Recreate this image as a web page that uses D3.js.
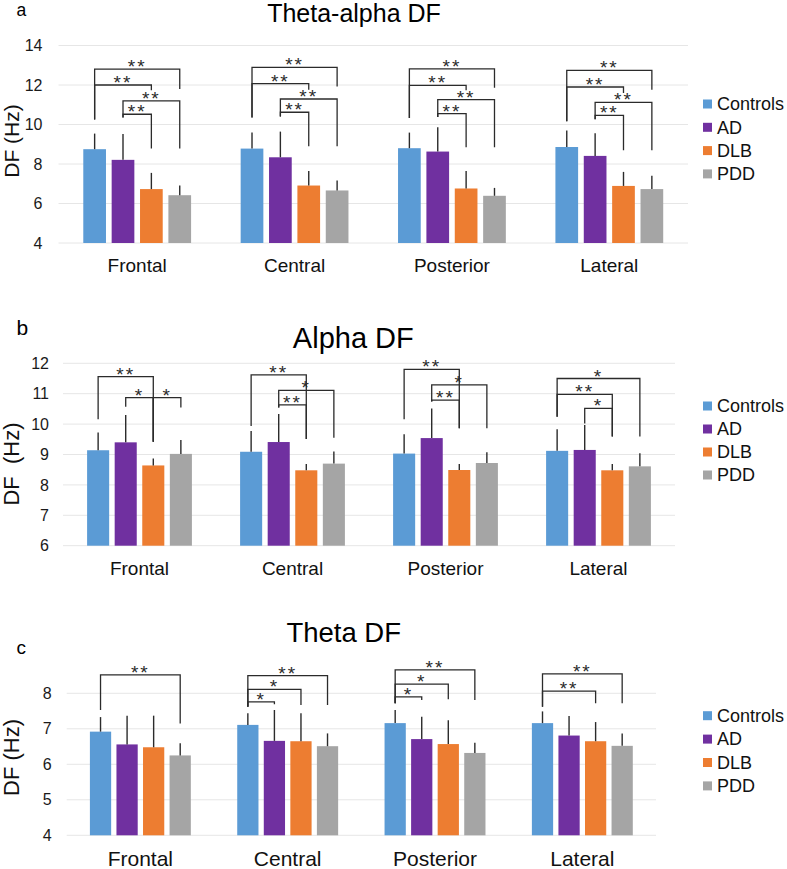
<!DOCTYPE html>
<html>
<head>
<meta charset="utf-8">
<script src="https://cdn.jsdelivr.net/npm/d3@7"></script>
<style>
  html, body { margin: 0; padding: 0; background: #fff; }
  svg { display: block; }
  text { font-family: "Liberation Sans", Arial, Helvetica, sans-serif; }
</style>
</head>
<body>
<svg id="chart" width="787" height="869"></svg>
<script>
// ---------- DATA ----------
const regions = ["Frontal", "Central", "Posterior", "Lateral"];
const groups = ["Controls", "AD", "DLB", "PDD"];
const groupColors = ["#5B9BD5", "#7030A0", "#ED7D31", "#A5A5A5"];

// rows = groups (Controls, AD, DLB, PDD), columns = regions
const thetaAlphaMean = [
  [8.75, 8.78, 8.80, 8.86],
  [8.21, 8.34, 8.63, 8.41],
  [6.73, 6.91, 6.76, 6.89],
  [6.42, 6.66, 6.39, 6.73]
];
const thetaAlphaSD = [
  [0.79, 0.82, 0.79, 0.83],
  [1.31, 1.30, 1.23, 1.15],
  [0.82, 0.73, 0.88, 0.71],
  [0.49, 0.51, 0.40, 0.67]
];
const alphaMean = [
  [9.14, 9.09, 9.03, 9.12],
  [9.40, 9.41, 9.54, 9.15],
  [8.64, 8.48, 8.49, 8.48],
  [9.02, 8.70, 8.72, 8.61]
];
const alphaSD = [
  [0.58, 0.68, 0.64, 0.71],
  [0.90, 0.92, 0.97, 0.82],
  [0.23, 0.21, 0.20, 0.21],
  [0.46, 0.40, 0.35, 0.43]
];
const thetaMean = [
  [6.92, 7.11, 7.16, 7.16],
  [6.56, 6.66, 6.71, 6.81],
  [6.48, 6.65, 6.57, 6.65],
  [6.25, 6.51, 6.32, 6.52]
];
const thetaSD = [
  [0.41, 0.33, 0.37, 0.33],
  [0.81, 0.87, 0.63, 0.55],
  [0.89, 0.79, 0.67, 0.54],
  [0.34, 0.36, 0.29, 0.35]
];

const thetaAlphaTicks = [4, 6, 8, 10, 12, 14];
const alphaTicks = [6, 7, 8, 9, 10, 11, 12];
const thetaTicks = [4, 5, 6, 7, 8];

// significance brackets: [region, groupA, groupB, top (Hz), left leg end (Hz), right leg end (Hz), label]
const thetaAlphaSig = [
  [0, 0, 3, 12.80, 10.25, 11.80, "**"], [0, 0, 2, 12.00, 10.25, 11.73, "**"],
  [0, 1, 3, 11.20, 10.36, 8.78, "**"], [0, 1, 2, 10.52, 10.36, 8.78, "**"],
  [1, 0, 3, 12.89, 10.35, 11.93, "**"], [1, 0, 2, 12.07, 10.35, 11.76, "**"],
  [1, 1, 3, 11.29, 10.40, 8.90, "**"], [1, 1, 2, 10.62, 10.40, 8.90, "**"],
  [2, 0, 3, 12.82, 10.33, 11.86, "**"], [2, 0, 2, 11.98, 10.33, 11.73, "**"],
  [2, 1, 3, 11.26, 10.38, 8.85, "**"], [2, 1, 2, 10.55, 10.38, 8.85, "**"],
  [3, 0, 3, 12.74, 10.16, 11.76, "**"], [3, 0, 2, 11.90, 10.16, 11.59, "**"],
  [3, 1, 3, 11.12, 10.26, 8.70, "**"], [3, 1, 2, 10.46, 10.26, 8.70, "**"]
];
const alphaSig = [
  [0, 0, 2, 11.56, 10.16, 9.42, "**"], [0, 1, 2, 10.87, 10.57, 9.42, "*"], [0, 2, 3, 10.87, 9.42, 10.55, "*"],
  [1, 0, 2, 11.62, 9.94, 9.51, "**"], [1, 1, 3, 11.11, 10.55, 9.55, "*"], [1, 1, 2, 10.63, 10.55, 9.51, "**"],
  [2, 0, 2, 11.80, 10.16, 9.86, "**"], [2, 1, 3, 11.29, 10.74, 9.86, "*"], [2, 1, 2, 10.79, 10.74, 9.86, "**"],
  [3, 0, 3, 11.50, 10.24, 9.59, "*"], [3, 0, 2, 10.98, 10.24, 9.59, "**"], [3, 1, 2, 10.52, 10.02, 9.59, "*"]
];
const thetaSig = [
  [0, 0, 3, 8.52, 7.53, 7.15, "**"],
  [1, 0, 3, 8.50, 7.62, 7.67, "**"], [1, 0, 2, 8.11, 7.62, 7.67, "*"], [1, 0, 1, 7.76, 7.62, 7.69, "*"],
  [2, 0, 3, 8.66, 7.72, 7.81, "**"], [2, 0, 2, 8.26, 7.72, 7.83, "*"], [2, 0, 1, 7.90, 7.72, 7.81, "*"],
  [3, 0, 3, 8.55, 7.62, 7.72, "**"], [3, 0, 2, 8.06, 7.62, 7.72, "**"]
];

// ---------- LAYOUT ----------
const panels = [
  { letter: "a", title: "Theta-alpha DF", mean: thetaAlphaMean, sd: thetaAlphaSD, ticks: thetaAlphaTicks, sig: thetaAlphaSig,
    domain: [4, 14], x0: 58.5, x1: 688, yBottom: 243, yTop: 45.5, tickPad: 16, tickFont: 16,
    ylabel: "DF (Hz)", ylabX: 11, ylabY: 141, ylabFont: 21,
    titleX: 354, titleY: 22, titleFont: 25, letterX: 16.5, letterY: 16, letterFont: 17.5,
    xlabY: 272, xlabFont: 19, legY: 104, legStep: 23.3, legFont: 18 },
  { letter: "b", title: "Alpha DF", mean: alphaMean, sd: alphaSD, ticks: alphaTicks, sig: alphaSig,
    domain: [6, 12], x0: 63, x1: 675, yBottom: 545.7, yTop: 363.3, tickPad: 14, tickFont: 16,
    ylabel: "DF  (Hz)", ylabX: 11, ylabY: 464, ylabFont: 22,
    titleX: 353.3, titleY: 348, titleFont: 29, letterX: 16.5, letterY: 335, letterFont: 21,
    xlabY: 575, xlabFont: 19, legY: 406, legStep: 23, legFont: 18 },
  { letter: "c", title: "Theta DF", mean: thetaMean, sd: thetaSD, ticks: thetaTicks, sig: thetaSig,
    domain: [4, 8], x0: 66.7, x1: 656, yBottom: 835.3, yTop: 693.3, tickPad: 15, tickFont: 16,
    ylabel: "DF (Hz)", ylabX: 11, ylabY: 757.5, ylabFont: 22,
    titleX: 343.7, titleY: 642, titleFont: 27.5, letterX: 16.5, letterY: 654, letterFont: 19,
    xlabY: 866, xlabFont: 21, legY: 715.7, legStep: 23.4, legFont: 18 }
];

const svg = d3.select("#chart");

panels.forEach(p => {
  const g = svg.append("g");
  const x = d3.scaleBand().domain(regions).range([p.x0, p.x1]).paddingInner(0.315).paddingOuter(0.1575);
  const xs = d3.scaleBand().domain(d3.range(groups.length)).range([0, x.bandwidth()]).paddingInner(0.2);
  const y = d3.scaleLinear().domain(p.domain).range([p.yBottom, p.yTop]);

  // gridlines
  g.append("g").selectAll("line").data(p.ticks).join("line")
    .attr("x1", p.x0).attr("x2", p.x1)
    .attr("y1", d => y(d)).attr("y2", d => y(d))
    .attr("stroke", "#e6e6e6").attr("stroke-width", 1);

  // y axis
  const ax = g.append("g").attr("transform", `translate(${p.x0},0)`)
    .call(d3.axisLeft(y).tickValues(p.ticks).tickSize(0).tickPadding(p.tickPad).tickFormat(d3.format("d")));
  ax.select(".domain").remove();
  ax.selectAll("text").attr("font-size", p.tickFont).attr("fill", "#1a1a1a")
    .style("font-family", '"Liberation Sans", Arial, sans-serif');

  // bars
  const cells = [];
  groups.forEach((grp, gi) => regions.forEach((reg, ri) => cells.push({ gi, ri, reg, m: p.mean[gi][ri], s: p.sd[gi][ri] })));
  const bx = d => x(d.reg) + xs(d.gi);
  g.append("g").selectAll("rect").data(cells).join("rect")
    .attr("x", bx).attr("width", xs.bandwidth())
    .attr("y", d => y(d.m)).attr("height", d => y(p.domain[0]) - y(d.m))
    .attr("fill", d => groupColors[d.gi]);

  // error bars (upper only)
  g.append("g").selectAll("line").data(cells).join("line")
    .attr("x1", d => bx(d) + xs.bandwidth() / 2).attr("x2", d => bx(d) + xs.bandwidth() / 2)
    .attr("y1", d => y(d.m)).attr("y2", d => y(d.m + d.s))
    .attr("stroke", "#2b2b2b").attr("stroke-width", 1.4);

  // significance brackets
  const cx = (ri, gi) => x(regions[ri]) + xs(gi) + xs.bandwidth() / 2;
  const sg = g.append("g");
  sg.selectAll("path").data(p.sig).join("path")
    .attr("d", d => `M${cx(d[0], d[1])},${y(d[4])}V${y(d[3])}H${cx(d[0], d[2])}V${y(d[5])}`)
    .attr("fill", "none").attr("stroke", "#2b2b2b").attr("stroke-width", 1.3);
  sg.selectAll("text").data(p.sig).join("text")
    .attr("x", d => (cx(d[0], d[1]) + cx(d[0], d[2])) / 2)
    .attr("y", d => y(d[3]) + 4)
    .attr("text-anchor", "middle")
    .attr("font-size", 19).attr("letter-spacing", 2).attr("fill", "#2b2b2b")
    .text(d => d[6]);

  // x labels
  g.append("g").selectAll("text").data(regions).join("text")
    .attr("x", d => x(d) + x.bandwidth() / 2).attr("y", p.xlabY)
    .attr("text-anchor", "middle").attr("font-size", p.xlabFont).attr("fill", "#111")
    .text(d => d);

  // y label
  g.append("text")
    .attr("transform", `translate(${p.ylabX + p.ylabFont * 0.36},${p.ylabY}) rotate(-90)`)
    .attr("text-anchor", "middle").attr("font-size", p.ylabFont).attr("fill", "#111")
    .style("white-space", "pre")
    .text(p.ylabel);

  // title
  g.append("text").attr("x", p.titleX).attr("y", p.titleY)
    .attr("text-anchor", "middle").attr("font-size", p.titleFont).attr("fill", "#000")
    .text(p.title);

  // panel letter
  g.append("text").attr("x", p.letterX).attr("y", p.letterY)
    .attr("font-size", p.letterFont).attr("fill", "#000")
    .text(p.letter);

  // legend
  const lg = g.append("g").selectAll("g").data(groups).join("g")
    .attr("transform", (d, i) => `translate(703,${p.legY + i * p.legStep})`);
  lg.append("rect").attr("x", 0).attr("y", -4.5).attr("width", 9).attr("height", 9)
    .attr("fill", (d, i) => groupColors[i]);
  lg.append("text").attr("x", 14).attr("y", 0).attr("dy", "0.35em")
    .attr("font-size", p.legFont).attr("fill", "#111").text(d => d);
});
</script>
</body>
</html>
